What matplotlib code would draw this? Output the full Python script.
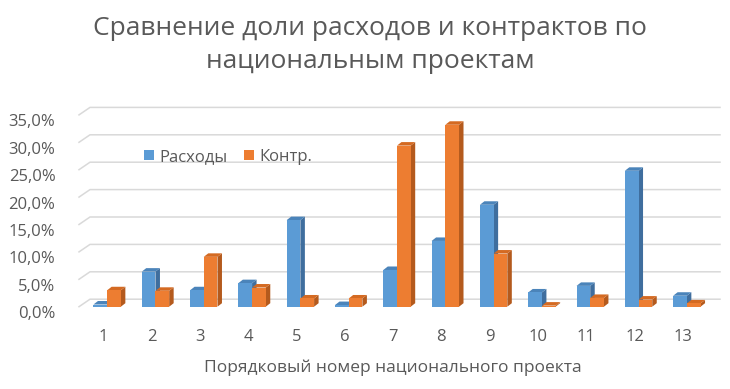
import matplotlib
matplotlib.use("Agg")
import matplotlib.pyplot as plt
from matplotlib.patches import Polygon
from matplotlib.transforms import ScaledTranslation
import numpy as np

# ---- data ----
projects = list(range(1, 14))
tick_labels = [str(p) for p in projects]
rashody = [0.4, 6.4, 3.0, 4.3, 15.8, 0.3, 6.7, 12.0, 18.6, 2.6, 3.8, 24.8, 2.0]
kontr = [3.0, 2.9, 9.1, 3.5, 1.5, 1.5, 29.4, 33.2, 9.7, 0.2, 1.6, 1.3, 0.6]
yticks = [0, 5, 10, 15, 20, 25, 30, 35]
ytick_labels = ["0,0%", "5,0%", "10,0%", "15,0%", "20,0%", "25,0%", "30,0%", "35,0%"]
series_names = ["Расходы", "Контр."]
title = "Сравнение доли расходов и контрактов по\nнациональным проектам"
xlabel = "Порядковый номер национального проекта"

plt.rcParams['font.family'] = ['Open Sans', 'DejaVu Sans']
TXT = "#595959"
BLUE, BLUE_SIDE, BLUE_TOP = "#5B9BD5", "#3F6E9E", "#4B84BA"
ORANGE, ORANGE_SIDE, ORANGE_TOP = "#ED7D31", "#B45A1D", "#D46A22"

W, H = 730, 389
fig = plt.figure(figsize=(W / 100, H / 100), dpi=100)
x0px, x1px, ybpx, ytpx = 79, 707, 306.7, 114.9
ax = fig.add_axes([x0px / W, (H - ybpx) / H, (x1px - x0px) / W, (ybpx - ytpx) / H])
ax.set_xlim(0.5, 13.5)
ax.set_ylim(0, 35)
ux = 13 / (x1px - x0px)   # data units per pixel
uy = 35 / (ybpx - ytpx)

for s in ax.spines.values():
    s.set_visible(False)

# back-wall gridlines with left wall slant
wall_dx, wall_dy = 11, 7.5
for v in yticks:
    yb = v + wall_dy * uy
    xs = 0.5 + 0 * ux
    xm = 0.5 + (0 + wall_dx) * ux
    xe = 0.5 + (720 - x0px) * ux
    ax.plot([xs, xm, xe], [v, yb, yb], color="#D9D9D9", lw=1.1, clip_on=False, zorder=0)

# bars with pseudo-3D faces
x = np.array(projects, dtype=float)
shift = 4 * ux
bw = 13.7 * ux
ddx, ddy = 4.5 * ux, 3.5 * uy
bars = []
for k, (vals, fc, sc, tc) in enumerate([(rashody, BLUE, BLUE_SIDE, BLUE_TOP),
                                         (kontr, ORANGE, ORANGE_SIDE, ORANGE_TOP)]):
    left = x + shift - bw + k * bw
    b = ax.bar(left, vals, width=bw, align='edge', color=fc, edgecolor='none',
               zorder=3 + 2 * k, label=series_names[k])
    bars.append(b)
    for l, h in zip(left, vals):
        r = l + bw
        side = Polygon([(r, 0), (r + ddx, ddy), (r + ddx, h + ddy), (r, h)],
                       closed=True, facecolor=sc, edgecolor='none', zorder=2 + 2 * k)
        top = Polygon([(l, h), (l + ddx, h + ddy), (r + ddx, h + ddy), (r, h)],
                      closed=True, facecolor=tc, edgecolor='none', zorder=2 + 2 * k)
        ax.add_patch(side)
        ax.add_patch(top)

ax.set_xticks(projects, tick_labels)
ax.set_yticks(yticks, ytick_labels)
ax.tick_params(axis='both', length=0, colors=TXT, labelsize=12)
ax.tick_params(axis='y', pad=17)
ax.tick_params(axis='x', pad=16)
off = ScaledTranslation(0, -4 / 72, fig.dpi_scale_trans)
for lbl in ax.get_yticklabels():
    lbl.set_transform(lbl.get_transform() + off)

fig.text(393 / W, 1 - 368 / H, xlabel, ha='center', va='center', color=TXT, fontsize=12.5)
fig.text(370 / W, 1 - 45 / H, title, ha='center', va='center', color=TXT, fontsize=19,
         linespacing=1.45)

ax.legend(handles=bars, loc='center', bbox_to_anchor=(228 / W, 1 - 157 / H),
          bbox_transform=fig.transFigure, ncol=2, frameon=False, fontsize=12,
          handlelength=0.6, handleheight=0.6, handletextpad=0.3, columnspacing=1.0,
          labelcolor=TXT)

fig.savefig("out.png", dpi=100, facecolor="white")
